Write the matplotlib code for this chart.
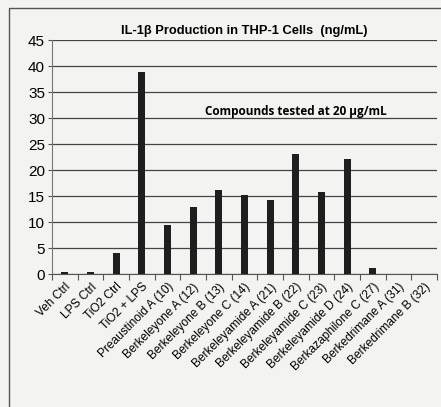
import matplotlib.pyplot as plt
from matplotlib.patches import Rectangle
from matplotlib.transforms import ScaledTranslation

categories = ['Veh Ctrl', 'LPS Ctrl', 'TiO2 Ctrl', 'TiO2 + LPS', 'Preaustinoid A (10)',
              'Berkeleyone A (12)', 'Berkeleyone B (13)', 'Berkeleyone C (14)',
              'Berkeleyamide A (21)', 'Berkeleyamide B (22)', 'Berkeleyamide C (23)',
              'Berkeleyamide D (24)', 'Berkazaphilone C (27)', 'Berkedrimane A (31)',
              'Berkedrimane B (32)']
il1b = [0.35, 0.45, 4.1, 38.9, 9.5, 12.9, 16.2, 15.2, 14.2, 23.0, 15.7, 22.2, 1.2, 0.0, 0.0]
yticks = [0, 5, 10, 15, 20, 25, 30, 35, 40, 45]

plt.rcParams['font.family'] = ['Liberation Sans', 'DejaVu Sans']

fig = plt.figure(figsize=(4.41, 4.07), dpi=100)
fig.patch.set_facecolor('#f3f3f1')
fig.add_artist(Rectangle((9 / 441, -0.05), 1.0, 1.05 - 8 / 407, transform=fig.transFigure,
                         fill=False, edgecolor='#555555', linewidth=1.0))

ax = fig.add_axes([52 / 441, 133 / 407, 385 / 441, 234 / 407])
ax.set_facecolor('none')
x = list(range(len(categories)))
ax.bar(x, il1b, width=0.27, color='#1e1e1e', zorder=3)
ax.set_xlim(-0.5, len(categories) - 0.5)
ax.set_ylim(0, 45)
ax.set_yticks(yticks)
ax.tick_params(axis='y', labelsize=11, length=3, color='#555555', pad=2)
ax.set_xticks([i - 0.5 for i in range(len(categories) + 1)], minor=False)
ax.set_xticklabels([])
ax.set_xticks(x, minor=True)
ax.set_xticklabels(categories, minor=True, rotation=45, ha='right', rotation_mode='anchor', fontsize=8.6)
shift = ScaledTranslation(6 / 100, 0, fig.dpi_scale_trans)
for lab in ax.get_xticklabels(minor=True):
    lab.set_transform(lab.get_transform() + shift)
ax.tick_params(axis='x', which='major', length=4, color='#555555', direction='out')
ax.tick_params(axis='x', which='minor', length=0, pad=5)
ax.grid(axis='y', color='#444444', linewidth=0.9, zorder=0)
for s in ['top', 'right']:
    ax.spines[s].set_visible(False)
ax.spines['left'].set_color('#777777')
ax.spines['bottom'].set_color('#555555')

ax.set_title('IL-1\u03b2 Production in THP-1 Cells  (ng/mL)', fontsize=9.3, fontweight='bold', pad=4)
ax.text(0.634, 30.6, 'Compounds tested at 20 \u03bcg/mL', transform=ax.get_yaxis_transform(),
        ha='center', va='baseline', fontsize=8.5, fontweight='bold', family=['Open Sans', 'DejaVu Sans'])

fig.savefig('out.png', dpi=100, facecolor=fig.get_facecolor())
